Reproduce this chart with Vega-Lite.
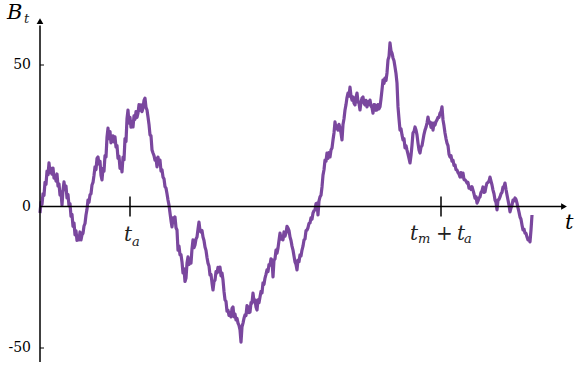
{
  "$schema": "https://vega.github.io/schema/vega-lite/v6.json",
  "width": 576,
  "height": 367,
  "padding": 0,
  "autosize": {"type": "none"},
  "background": "white",
  "config": {"view": {"stroke": null}},
  "datasets": {
    "path": [
{"t":0,"B":-2.3},{"t":1,"B":1.5},{"t":2,"B":0.8},{"t":3,"B":4.5},{"t":4,"B":3.9},{"t":5,"B":8.5},{"t":6,"B":7.8},{"t":7,"B":12.5},{"t":8,"B":11.2},{"t":9,"B":15.4},{"t":10,"B":12.0},{"t":11,"B":13.5},{"t":12,"B":11.4},{"t":13,"B":13.6},{"t":14,"B":10.0},{"t":15,"B":11.0},{"t":16,"B":9.0},{"t":17,"B":11.5},{"t":18,"B":7.2},{"t":19,"B":8.0},{"t":20,"B":4.0},{"t":21,"B":5.2},{"t":22,"B":0.5},{"t":23,"B":5.8},{"t":24,"B":8.7},{"t":25,"B":6.0},{"t":26,"B":7.2},{"t":27,"B":3.0},{"t":28,"B":4.2},{"t":29,"B":0.2},{"t":30,"B":1.0},{"t":31,"B":-3.5},{"t":32,"B":-2.8},{"t":33,"B":-7.0},{"t":34,"B":-5.8},{"t":35,"B":-10.0},{"t":36,"B":-8.6},{"t":37,"B":-12.0},{"t":38,"B":-10.6},{"t":39,"B":-11.8},{"t":40,"B":-9.0},{"t":41,"B":-11.8},{"t":42,"B":-10.0},{"t":43,"B":-9.5},{"t":44,"B":-6.9},{"t":45,"B":-6.0},{"t":46,"B":-3.0},{"t":47,"B":-1.0},{"t":48,"B":2.3},{"t":49,"B":1.5},{"t":50,"B":4.1},{"t":51,"B":4.5},{"t":52,"B":7.6},{"t":53,"B":8.5},{"t":54,"B":11.0},{"t":55,"B":14.0},{"t":56,"B":13.0},{"t":57,"B":17.0},{"t":58,"B":17.5},{"t":59,"B":15.0},{"t":60,"B":16.0},{"t":61,"B":11.0},{"t":62,"B":9.4},{"t":63,"B":13.5},{"t":64,"B":12.5},{"t":65,"B":18.0},{"t":66,"B":17.5},{"t":67,"B":24.5},{"t":68,"B":27.7},{"t":69,"B":24.0},{"t":70,"B":26.5},{"t":71,"B":22.5},{"t":72,"B":23.5},{"t":73,"B":25.0},{"t":74,"B":22.8},{"t":75,"B":24.6},{"t":76,"B":21.0},{"t":77,"B":21.5},{"t":78,"B":17.0},{"t":79,"B":17.8},{"t":80,"B":13.5},{"t":81,"B":15.0},{"t":82,"B":12.2},{"t":83,"B":17.5},{"t":84,"B":16.5},{"t":85,"B":24.0},{"t":86,"B":23.0},{"t":87,"B":31.0},{"t":88,"B":34.1},{"t":89,"B":29.5},{"t":90,"B":31.5},{"t":91,"B":28.0},{"t":92,"B":30.0},{"t":93,"B":28.1},{"t":94,"B":32.0},{"t":95,"B":30.8},{"t":96,"B":33.5},{"t":97,"B":31.5},{"t":98,"B":33.0},{"t":99,"B":36.0},{"t":100,"B":34.0},{"t":101,"B":35.9},{"t":102,"B":33.5},{"t":103,"B":34.8},{"t":104,"B":37.5},{"t":105,"B":38.3},{"t":106,"B":35.0},{"t":107,"B":34.1},{"t":108,"B":31.6},{"t":109,"B":29.0},{"t":110,"B":25.3},{"t":111,"B":25.0},{"t":112,"B":20.0},{"t":113,"B":18.9},{"t":114,"B":18.0},{"t":115,"B":16.4},{"t":116,"B":17.0},{"t":117,"B":14.0},{"t":118,"B":17.5},{"t":119,"B":15.0},{"t":120,"B":16.4},{"t":121,"B":12.5},{"t":122,"B":13.0},{"t":123,"B":10.4},{"t":124,"B":9.8},{"t":125,"B":7.0},{"t":126,"B":6.5},{"t":127,"B":4.5},{"t":128,"B":2.3},{"t":129,"B":0.5},{"t":130,"B":-2.3},{"t":131,"B":-5.0},{"t":132,"B":-7.2},{"t":133,"B":-4.0},{"t":134,"B":-5.0},{"t":135,"B":-3.7},{"t":136,"B":-7.5},{"t":137,"B":-8.3},{"t":138,"B":-15.4},{"t":139,"B":-14.0},{"t":140,"B":-17.1},{"t":141,"B":-17.0},{"t":142,"B":-19.6},{"t":143,"B":-23.5},{"t":144,"B":-22.0},{"t":145,"B":-26.5},{"t":146,"B":-25.3},{"t":147,"B":-20.0},{"t":148,"B":-17.8},{"t":149,"B":-20.5},{"t":150,"B":-18.5},{"t":151,"B":-20.0},{"t":152,"B":-15.0},{"t":153,"B":-11.8},{"t":154,"B":-14.5},{"t":155,"B":-13.6},{"t":156,"B":-11.5},{"t":157,"B":-10.8},{"t":158,"B":-8.0},{"t":159,"B":-5.5},{"t":160,"B":-8.5},{"t":161,"B":-9.0},{"t":162,"B":-8.5},{"t":163,"B":-10.8},{"t":164,"B":-12.0},{"t":165,"B":-14.3},{"t":166,"B":-15.5},{"t":167,"B":-18.0},{"t":168,"B":-20.0},{"t":169,"B":-21.0},{"t":170,"B":-24.2},{"t":171,"B":-24.0},{"t":172,"B":-27.0},{"t":173,"B":-29.5},{"t":174,"B":-26.5},{"t":175,"B":-26.0},{"t":176,"B":-23.0},{"t":177,"B":-23.5},{"t":178,"B":-21.5},{"t":179,"B":-23.0},{"t":180,"B":-21.4},{"t":181,"B":-24.5},{"t":182,"B":-23.5},{"t":183,"B":-26.0},{"t":184,"B":-30.0},{"t":185,"B":-33.0},{"t":186,"B":-33.5},{"t":187,"B":-37.0},{"t":188,"B":-36.6},{"t":189,"B":-38.5},{"t":190,"B":-37.5},{"t":191,"B":-39.0},{"t":192,"B":-36.0},{"t":193,"B":-35.5},{"t":194,"B":-39.0},{"t":195,"B":-38.0},{"t":196,"B":-40.1},{"t":197,"B":-39.5},{"t":198,"B":-41.2},{"t":199,"B":-42.0},{"t":200,"B":-43.6},{"t":201,"B":-47.9},{"t":202,"B":-42.5},{"t":203,"B":-41.2},{"t":204,"B":-39.5},{"t":205,"B":-38.3},{"t":206,"B":-38.5},{"t":207,"B":-35.0},{"t":208,"B":-35.5},{"t":209,"B":-37.5},{"t":210,"B":-37.3},{"t":211,"B":-34.0},{"t":212,"B":-34.1},{"t":213,"B":-30.6},{"t":214,"B":-33.5},{"t":215,"B":-33.0},{"t":216,"B":-35.5},{"t":217,"B":-36.6},{"t":218,"B":-33.0},{"t":219,"B":-34.0},{"t":220,"B":-32.0},{"t":221,"B":-30.0},{"t":222,"B":-30.5},{"t":223,"B":-27.0},{"t":224,"B":-27.5},{"t":225,"B":-25.3},{"t":226,"B":-24.0},{"t":227,"B":-22.4},{"t":228,"B":-23.0},{"t":229,"B":-20.5},{"t":230,"B":-20.7},{"t":231,"B":-18.5},{"t":232,"B":-18.9},{"t":233,"B":-24.9},{"t":234,"B":-19.0},{"t":235,"B":-18.5},{"t":236,"B":-15.4},{"t":237,"B":-16.5},{"t":238,"B":-14.7},{"t":239,"B":-12.0},{"t":240,"B":-9.4},{"t":241,"B":-11.5},{"t":242,"B":-10.5},{"t":243,"B":-11.8},{"t":244,"B":-9.0},{"t":245,"B":-10.5},{"t":246,"B":-9.4},{"t":247,"B":-7.0},{"t":248,"B":-7.6},{"t":249,"B":-8.5},{"t":250,"B":-10.8},{"t":251,"B":-12.0},{"t":252,"B":-14.0},{"t":253,"B":-15.4},{"t":254,"B":-17.5},{"t":255,"B":-19.6},{"t":256,"B":-20.5},{"t":257,"B":-22.4},{"t":258,"B":-18.9},{"t":259,"B":-19.5},{"t":260,"B":-17.1},{"t":261,"B":-17.5},{"t":262,"B":-15.4},{"t":263,"B":-14.0},{"t":264,"B":-11.8},{"t":265,"B":-11.5},{"t":266,"B":-8.5},{"t":267,"B":-8.3},{"t":268,"B":-7.5},{"t":269,"B":-6.0},{"t":270,"B":-5.8},{"t":271,"B":-4.0},{"t":272,"B":-4.5},{"t":273,"B":-2.3},{"t":274,"B":-1.5},{"t":275,"B":-1.2},{"t":276,"B":1.0},{"t":277,"B":1.2},{"t":278,"B":-3.0},{"t":279,"B":2.0},{"t":280,"B":3.4},{"t":281,"B":4.0},{"t":282,"B":6.9},{"t":283,"B":11.1},{"t":284,"B":13.0},{"t":285,"B":16.4},{"t":286,"B":16.0},{"t":287,"B":18.9},{"t":288,"B":17.0},{"t":289,"B":19.0},{"t":290,"B":17.5},{"t":291,"B":20.0},{"t":292,"B":20.7},{"t":293,"B":23.5},{"t":294,"B":26.0},{"t":295,"B":29.9},{"t":296,"B":27.5},{"t":297,"B":28.5},{"t":298,"B":27.0},{"t":299,"B":29.0},{"t":300,"B":27.7},{"t":301,"B":26.0},{"t":302,"B":23.5},{"t":303,"B":29.0},{"t":304,"B":31.0},{"t":305,"B":34.1},{"t":306,"B":36.0},{"t":307,"B":38.5},{"t":308,"B":40.1},{"t":309,"B":39.0},{"t":310,"B":42.2},{"t":311,"B":39.0},{"t":312,"B":37.6},{"t":313,"B":38.7},{"t":314,"B":36.5},{"t":315,"B":35.9},{"t":316,"B":38.5},{"t":317,"B":40.1},{"t":318,"B":37.0},{"t":319,"B":36.5},{"t":320,"B":34.1},{"t":321,"B":37.0},{"t":322,"B":38.3},{"t":323,"B":38.7},{"t":324,"B":36.5},{"t":325,"B":35.9},{"t":326,"B":37.5},{"t":327,"B":35.2},{"t":328,"B":37.0},{"t":329,"B":36.0},{"t":330,"B":37.6},{"t":331,"B":35.5},{"t":332,"B":35.0},{"t":333,"B":33.0},{"t":334,"B":36.0},{"t":335,"B":35.9},{"t":336,"B":34.0},{"t":337,"B":34.1},{"t":338,"B":36.0},{"t":339,"B":34.5},{"t":340,"B":35.2},{"t":341,"B":38.0},{"t":342,"B":41.2},{"t":343,"B":44.7},{"t":344,"B":43.5},{"t":345,"B":45.4},{"t":346,"B":44.5},{"t":347,"B":47.2},{"t":348,"B":51.8},{"t":349,"B":53.0},{"t":350,"B":57.8},{"t":351,"B":55.0},{"t":352,"B":54.2},{"t":353,"B":52.5},{"t":354,"B":51.5},{"t":355,"B":49.3},{"t":356,"B":47.0},{"t":357,"B":43.6},{"t":358,"B":35.2},{"t":359,"B":31.0},{"t":360,"B":27.0},{"t":361,"B":27.5},{"t":362,"B":25.3},{"t":363,"B":23.5},{"t":364,"B":24.0},{"t":365,"B":20.7},{"t":366,"B":21.5},{"t":367,"B":19.9},{"t":368,"B":18.5},{"t":369,"B":17.0},{"t":370,"B":15.4},{"t":371,"B":18.0},{"t":372,"B":21.7},{"t":373,"B":26.0},{"t":374,"B":26.5},{"t":375,"B":28.1},{"t":376,"B":27.0},{"t":377,"B":25.3},{"t":378,"B":22.4},{"t":379,"B":20.0},{"t":380,"B":18.9},{"t":381,"B":21.0},{"t":382,"B":21.5},{"t":383,"B":23.5},{"t":384,"B":25.5},{"t":385,"B":27.0},{"t":386,"B":28.0},{"t":387,"B":29.5},{"t":388,"B":31.6},{"t":389,"B":29.5},{"t":390,"B":29.9},{"t":391,"B":28.0},{"t":392,"B":29.5},{"t":393,"B":27.0},{"t":394,"B":29.5},{"t":395,"B":28.8},{"t":396,"B":30.0},{"t":397,"B":30.6},{"t":398,"B":31.5},{"t":399,"B":31.5},{"t":400,"B":33.0},{"t":401,"B":33.5},{"t":402,"B":35.2},{"t":403,"B":30.6},{"t":404,"B":28.5},{"t":405,"B":26.0},{"t":406,"B":24.0},{"t":407,"B":22.4},{"t":408,"B":21.5},{"t":409,"B":18.5},{"t":410,"B":17.5},{"t":411,"B":18.0},{"t":412,"B":16.0},{"t":413,"B":16.4},{"t":414,"B":14.5},{"t":415,"B":14.7},{"t":416,"B":13.0},{"t":417,"B":12.9},{"t":418,"B":12.0},{"t":419,"B":11.5},{"t":420,"B":10.4},{"t":421,"B":12.0},{"t":422,"B":10.5},{"t":423,"B":11.8},{"t":424,"B":9.5},{"t":425,"B":9.4},{"t":426,"B":9.0},{"t":427,"B":8.3},{"t":428,"B":8.5},{"t":429,"B":6.5},{"t":430,"B":6.9},{"t":431,"B":6.0},{"t":432,"B":7.0},{"t":433,"B":5.8},{"t":434,"B":4.5},{"t":435,"B":3.0},{"t":436,"B":3.5},{"t":437,"B":1.2},{"t":438,"B":2.0},{"t":439,"B":3.0},{"t":440,"B":3.4},{"t":441,"B":5.0},{"t":442,"B":5.5},{"t":443,"B":6.9},{"t":444,"B":5.0},{"t":445,"B":5.1},{"t":446,"B":7.0},{"t":447,"B":8.3},{"t":448,"B":8.5},{"t":449,"B":9.0},{"t":450,"B":10.4},{"t":451,"B":9.0},{"t":452,"B":7.6},{"t":453,"B":5.8},{"t":454,"B":4.5},{"t":455,"B":2.3},{"t":456,"B":1.5},{"t":457,"B":-1.2},{"t":458,"B":2.3},{"t":459,"B":2.5},{"t":460,"B":3.4},{"t":461,"B":4.5},{"t":462,"B":5.0},{"t":463,"B":6.9},{"t":464,"B":7.0},{"t":465,"B":8.3},{"t":466,"B":6.0},{"t":467,"B":4.1},{"t":468,"B":2.3},{"t":469,"B":0.5},{"t":470,"B":-1.9},{"t":471,"B":-0.5},{"t":472,"B":0.5},{"t":473,"B":2.3},{"t":474,"B":2.0},{"t":475,"B":3.0},{"t":476,"B":2.5},{"t":477,"B":1.2},{"t":478,"B":-0.5},{"t":479,"B":-2.0},{"t":480,"B":-3.7},{"t":481,"B":-4.5},{"t":482,"B":-6.5},{"t":483,"B":-8.3},{"t":484,"B":-8.0},{"t":485,"B":-9.4},{"t":486,"B":-9.5},{"t":487,"B":-10.8},{"t":488,"B":-11.8},{"t":489,"B":-11.5},{"t":490,"B":-12.5},{"t":491,"B":-8.3},{"t":492,"B":-3.0}
    ],
    "axislines": [
      {"x1":0,"y1":0,"x2":522,"y2":0},
      {"x1":0,"y1":-54.9,"x2":0,"y2":64}
    ],
    "yticks": [{"x1":0,"x2":4,"B":50},{"x1":0,"x2":4,"B":-50}],
    "xticks": [{"t":90,"y1":-3.5,"y2":3.5},{"t":401,"y1":-3.5,"y2":3.5}],
    "arrows": [{"t":524,"B":0,"shape":"triangle-right"},{"t":0,"B":65.5,"shape":"triangle-up"}],
    "ylabels": [{"x":-9,"B":50,"text":"50"},{"x":-9,"B":0,"text":"0"},{"x":-9,"B":-50,"text":"-50"}],
    "mainlabels": [
      {"x":84,"y":-12.2,"text":"t"},
      {"x":370,"y":-11.8,"text":"t"},
      {"x":417,"y":-11.8,"text":"t"}
    ],
    "sublabels": [
      {"x":92,"y":-13.8,"text":"a"},
      {"x":378,"y":-12.9,"text":"m"},
      {"x":424,"y":-12.9,"text":"a"},
      {"x":-16,"y":65.0,"text":"t"}
    ],
    "pluslabel": [{"x":396,"y":-11.8,"text":"+"}],
    "axisnames": [
      {"x":525,"y":-7.95,"text":"t"},
      {"x":-33,"y":66.3,"text":"B"}
    ]
  },
  "layer": [
    {
      "data": {"name": "path"},
      "mark": {"type": "line", "color": "#7a479e", "strokeWidth": 3.2, "strokeJoin": "round", "clip": false},
      "encoding": {
        "x": {"field": "t", "type": "quantitative", "scale": {"domain": [-40, 536], "nice": false, "zero": false}, "axis": null},
        "y": {"field": "B", "type": "quantitative", "scale": {"domain": [-56.71, 72.97], "nice": false, "zero": false}, "axis": null}
      }
    },
    {
      "data": {"name": "axislines"},
      "mark": {"type": "rule", "color": "black", "strokeWidth": 1.5},
      "encoding": {
        "x": {"field": "x1", "type": "quantitative"},
        "x2": {"field": "x2"},
        "y": {"field": "y1", "type": "quantitative"},
        "y2": {"field": "y2"}
      }
    },
    {
      "data": {"name": "yticks"},
      "mark": {"type": "rule", "color": "black", "strokeWidth": 1},
      "encoding": {
        "x": {"field": "x1", "type": "quantitative"},
        "x2": {"field": "x2"},
        "y": {"field": "B", "type": "quantitative"}
      }
    },
    {
      "data": {"name": "xticks"},
      "mark": {"type": "rule", "color": "black", "strokeWidth": 1.5},
      "encoding": {
        "x": {"field": "t", "type": "quantitative"},
        "y": {"field": "y1", "type": "quantitative"},
        "y2": {"field": "y2"}
      }
    },
    {
      "data": {"name": "arrows"},
      "mark": {"type": "point", "filled": true, "color": "black", "size": 45, "opacity": 1},
      "encoding": {
        "x": {"field": "t", "type": "quantitative"},
        "y": {"field": "B", "type": "quantitative"},
        "shape": {"field": "shape", "type": "nominal", "scale": null, "legend": null}
      }
    },
    {
      "data": {"name": "ylabels"},
      "mark": {"type": "text", "align": "right", "baseline": "middle", "font": "DejaVu Serif", "fontSize": 14, "color": "black"},
      "encoding": {
        "x": {"field": "x", "type": "quantitative"},
        "y": {"field": "B", "type": "quantitative"},
        "text": {"field": "text"}
      }
    },
    {
      "data": {"name": "mainlabels"},
      "mark": {"type": "text", "align": "left", "baseline": "alphabetic", "font": "DejaVu Serif", "fontStyle": "italic", "fontSize": 20, "color": "#222222"},
      "encoding": {
        "x": {"field": "x", "type": "quantitative"},
        "y": {"field": "y", "type": "quantitative"},
        "text": {"field": "text"}
      }
    },
    {
      "data": {"name": "sublabels"},
      "mark": {"type": "text", "align": "left", "baseline": "alphabetic", "font": "DejaVu Serif", "fontStyle": "italic", "fontSize": 13, "color": "#222222"},
      "encoding": {
        "x": {"field": "x", "type": "quantitative"},
        "y": {"field": "y", "type": "quantitative"},
        "text": {"field": "text"}
      }
    },
    {
      "data": {"name": "pluslabel"},
      "mark": {"type": "text", "align": "left", "baseline": "alphabetic", "font": "DejaVu Serif", "fontSize": 20, "color": "#222222"},
      "encoding": {
        "x": {"field": "x", "type": "quantitative"},
        "y": {"field": "y", "type": "quantitative"},
        "text": {"field": "text"}
      }
    },
    {
      "data": {"name": "axisnames"},
      "mark": {"type": "text", "align": "left", "baseline": "alphabetic", "font": "DejaVu Serif", "fontStyle": "italic", "fontSize": 21, "color": "black"},
      "encoding": {
        "x": {"field": "x", "type": "quantitative"},
        "y": {"field": "y", "type": "quantitative"},
        "text": {"field": "text"}
      }
    }
  ]
}
